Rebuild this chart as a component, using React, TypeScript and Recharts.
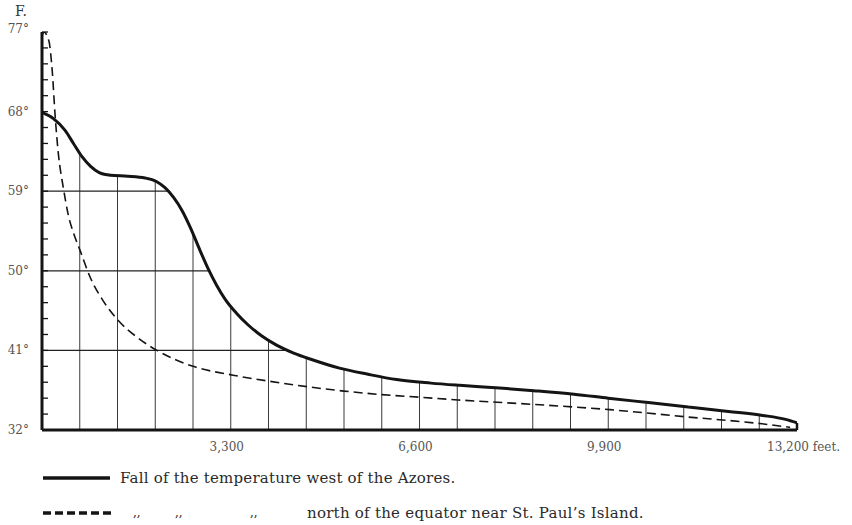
import { LineChart, Line, XAxis, YAxis, ReferenceLine } from "recharts";

// depth below the surface (feet) and temperature (°F)
const azoresFeet = [0, 200, 400, 550, 700, 850, 1000, 1200, 1500, 1800, 2000, 2150, 2300, 2450, 2600, 2750, 2900, 3050, 3200, 3400, 3600, 3850, 4100, 4400, 4700, 5200, 5700, 6200, 6800, 7300, 8000, 8600, 9300, 9900, 10600, 11300, 12000, 12600, 13000, 13200];
const azoresTemp = [67.9, 67.2, 65.9, 64.4, 62.9, 61.8, 61.1, 60.8, 60.7, 60.5, 60.1, 59.4, 58.3, 56.8, 54.8, 52.5, 50.3, 48.4, 46.8, 45.2, 43.9, 42.6, 41.6, 40.7, 40.0, 39.0, 38.3, 37.7, 37.3, 37.05, 36.75, 36.45, 36.05, 35.6, 35.1, 34.6, 34.1, 33.65, 33.2, 32.8];

const stPaulFeet = [0, 30, 120, 180, 230, 290, 370, 460, 560, 660, 840, 1070, 1330, 1660, 2010, 2640, 3340, 3990, 4630, 5280, 5940, 6610, 7270, 8580, 9930, 11240, 12590, 13080];
const stPaulTemp = [76.5, 77, 76, 72.5, 67.5, 63, 59.5, 56.3, 54.1, 52.4, 49.3, 46.6, 44.4, 42.5, 41.0, 39.2, 38.2, 37.5, 36.9, 36.4, 36.0, 35.7, 35.4, 34.9, 34.3, 33.5, 32.7, 32.3];

// axis labels
const xTicks = [3300, 6600, 9900, 13200];
const majorTemps = [32, 41, 50, 59, 68, 77];
// small ticks on the temperature axis fall on every centigrade degree (1.8 °F)
const yTicks = Array.from({ length: 26 }, (_, i) => 32 + i * 1.8);
// ruled lines under the Azores curve
const gridFeet = Array.from({ length: 19 }, (_, i) => (i + 1) * 660);
const ruledTemps = [59, 50, 41];

const legendSolid = "Fall of the temperature west of the Azores.";
const legendDashed = "north of the equator near St. Paul\u2019s Island.";

const azores = azoresFeet.map((ft, i) => ({ ft, temp: azoresTemp[i] }));
const stPaul = stPaulFeet.map((ft, i) => ({ ft, temp: stPaulTemp[i] }));

const INK = "#141414";
const FONT = "'DejaVu Serif', 'Liberation Serif', serif";

// temperature of the Azores curve at a given depth
function tempAt(ft: number) {
  for (let i = 1; i < azores.length; i++) {
    const a = azores[i - 1];
    const b = azores[i];
    if (ft <= b.ft) return a.temp + ((ft - a.ft) / (b.ft - a.ft)) * (b.temp - a.temp);
  }
  return azores[azores.length - 1].temp;
}

// depth where the Azores curve first drops to a temperature
function feetAt(temp: number) {
  for (let i = 1; i < azores.length; i++) {
    const a = azores[i - 1];
    const b = azores[i];
    if (b.temp <= temp) return a.ft + ((a.temp - temp) / (a.temp - b.temp)) * (b.ft - a.ft);
  }
  return azores[azores.length - 1].ft;
}

const DegreeTick = (props: any) => {
  const { x, y, payload } = props;
  const major = majorTemps.find((t) => Math.abs(t - payload.value) < 0.01);
  return (
    <g>
      <line x1={x} x2={x + 6} y1={y} y2={y} stroke={INK} strokeWidth={1.3} />
      {major !== undefined && (
        <text x={x - 13} y={major === 77 ? y - 3 : y} dy={4} textAnchor="end" fontSize={12} fontFamily={FONT} fill="#555">
          {major}°
        </text>
      )}
      {major === 77 && (
        <text x={x - 21} y={y - 16} textAnchor="middle" fontSize={14} fontFamily={FONT} fill="#333">
          F.
        </text>
      )}
    </g>
  );
};

const FeetTick = (props: any) => {
  const { x, y, payload } = props;
  const label = payload.value.toLocaleString("en-US");
  const last = payload.value === xTicks[xTicks.length - 1];
  return (
    <text x={last ? x - 30 : x - 4} y={y + 21} textAnchor={last ? "start" : "middle"} fontSize={12} fontFamily={FONT} fill="#555">
      {last ? `${label} feet.` : label}
    </text>
  );
};

export default function App() {
  return (
    <div style={{ position: "absolute", left: 0, top: 0, width: 852, height: 525, background: "#fff" }}>
      <LineChart width={852} height={525} margin={{ top: 32, right: 55, bottom: 65, left: 0 }}>
        <XAxis
          type="number"
          dataKey="ft"
          domain={[0, 13200]}
          ticks={xTicks}
          interval={0}
          height={30}
          tickSize={0}
          tickMargin={0}
          tick={FeetTick}
          axisLine={{ stroke: INK, strokeWidth: 3 }}
          allowDataOverflow
        />
        <YAxis
          type="number"
          domain={[32, 77]}
          ticks={yTicks}
          interval={0}
          width={42}
          tickSize={0}
          tickMargin={0}
          tick={DegreeTick}
          axisLine={{ stroke: INK, strokeWidth: 3 }}
          allowDataOverflow
        />
        {gridFeet.map((ft) => (
          <ReferenceLine
            key={`v${ft}`}
            segment={[{ x: ft, y: 32 }, { x: ft, y: tempAt(ft) }]}
            stroke="#3a3a3a"
            strokeWidth={1}
          />
        ))}
        {ruledTemps.map((t) => (
          <ReferenceLine
            key={`h${t}`}
            segment={[{ x: 0, y: t }, { x: feetAt(t), y: t }]}
            stroke="#222"
            strokeWidth={1.3}
          />
        ))}
        <ReferenceLine
          segment={[{ x: 13200, y: 32 }, { x: 13200, y: azoresTemp[azoresTemp.length - 1] }]}
          stroke={INK}
          strokeWidth={2.5}
        />
        <Line
          data={azores}
          dataKey="temp"
          type="monotone"
          stroke={INK}
          strokeWidth={3}
          dot={false}
          isAnimationActive={false}
        />
        <Line
          data={stPaul}
          dataKey="temp"
          type="monotone"
          stroke={INK}
          strokeWidth={1.6}
          strokeDasharray="9 5"
          dot={false}
          isAnimationActive={false}
        />
      </LineChart>
      <svg width={852} height={60} style={{ position: "absolute", left: 0, top: 465 }}>
        <line x1={43} x2={110} y1={13} y2={13} stroke={INK} strokeWidth={3.5} />
        <text x={120} y={18} fontSize={15} letterSpacing={0.2} fontFamily={FONT} fill="#2a2a2a">
          {legendSolid}
        </text>
        <line x1={43} x2={112} y1={48} y2={48} stroke={INK} strokeWidth={3.5} strokeDasharray="8 4" />
        <text x={133} y={51} fontSize={12} fontFamily={FONT} fill="#2a2a2a">,,</text>
        <text x={175} y={51} fontSize={12} fontFamily={FONT} fill="#2a2a2a">,,</text>
        <text x={250} y={51} fontSize={12} fontFamily={FONT} fill="#2a2a2a">,,</text>
        <text x={307} y={53} fontSize={15} letterSpacing={0.25} fontFamily={FONT} fill="#2a2a2a">
          {legendDashed}
        </text>
      </svg>
    </div>
  );
}
